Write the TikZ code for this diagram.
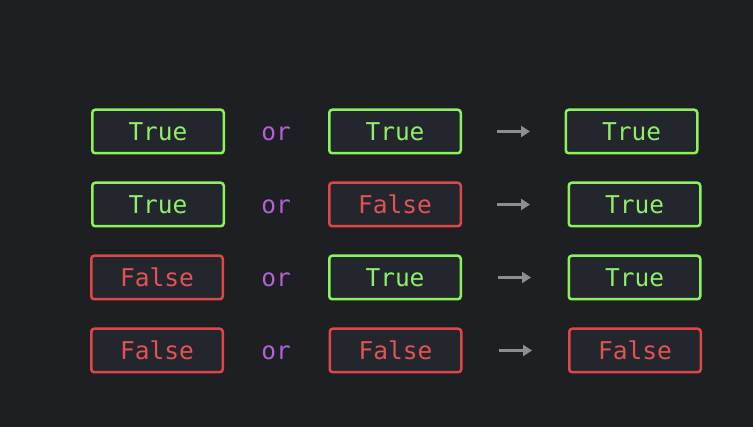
\documentclass[tikz,border=0pt]{standalone}
\usepackage{fontspec}
\usetikzlibrary{arrows.meta}
\newfontfamily\codefont{DejaVu Sans Mono}
\definecolor{bgcol}{HTML}{1E1F23}
\definecolor{boxcol}{HTML}{23262D}
\definecolor{truecol}{HTML}{8CF25A}
\definecolor{truetext}{HTML}{90EE6C}
\definecolor{falsecol}{HTML}{E04646}
\definecolor{falsetext}{HTML}{E45252}
\definecolor{orcol}{HTML}{B262D2}
\definecolor{arrcol}{HTML}{8E8E8E}
\tikzset{
  valbox/.style={draw,fill=boxcol,line width=2.5pt,rounded corners=3pt,inner sep=0pt,
    minimum width=131.5pt,minimum height=43.5pt,text height=17.9pt,text depth=0pt,
    font=\codefont\fontsize{24.5}{24.5}\selectfont},
  truebox/.style={valbox,draw=truecol,text=truetext},
  falsebox/.style={valbox,draw=falsecol,text=falsetext},
  orlabel/.style={inner sep=0pt,text height=17.9pt,text depth=0pt,text=orcol,
    font=\codefont\fontsize{24.5}{24.5}\selectfont},
  arr/.style={arrcol,line width=2.8pt,-{Triangle[length=9pt,width=11pt]}}
}
\begin{document}
\begin{tikzpicture}[x=1pt,y=-1pt]
\fill[bgcol] (0,0) rectangle (753,427);
% row 1
\node[truebox] (a1) at (158,131.5) {True};
\node[orlabel] (or1) at (276,131.5) {or};
\node[truebox] (b1) at (395,131.5) {True};
\node[truebox] (c1) at (631.5,131.5) {True};
% row 2
\node[truebox] (a2) at (158,204.5) {True};
\node[orlabel] (or2) at (276,204.5) {or};
\node[falsebox] (b2) at (395,204.5) {False};
\node[truebox] (c2) at (634.5,204.5) {True};
% row 3
\node[falsebox] (a3) at (157,277.5) {False};
\node[orlabel] (or3) at (276,277.5) {or};
\node[truebox] (b3) at (395,277.5) {True};
\node[truebox] (c3) at (634.5,277.5) {True};
% row 4
\node[falsebox] (a4) at (157,350.5) {False};
\node[orlabel] (or4) at (276,350.5) {or};
\node[falsebox] (b4) at (395.5,350.5) {False};
\node[falsebox] (c4) at (635,350.5) {False};
% arrows
\coordinate (s1) at (497,131.5);  \coordinate (e1) at (530,131.5);
\coordinate (s2) at (497,204.5);  \coordinate (e2) at (530,204.5);
\coordinate (s3) at (498,277.5);  \coordinate (e3) at (531,277.5);
\coordinate (s4) at (499,350.5);  \coordinate (e4) at (532,350.5);
\draw[arr] (s1) -- (e1);
\draw[arr] (s2) -- (e2);
\draw[arr] (s3) -- (e3);
\draw[arr] (s4) -- (e4);
\end{tikzpicture}
\end{document}
